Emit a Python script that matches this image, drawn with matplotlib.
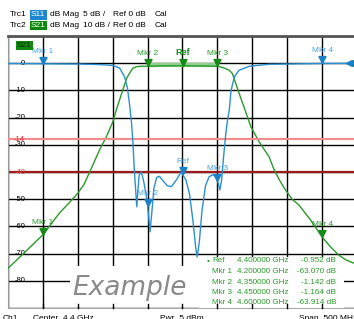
import numpy as np
import matplotlib
matplotlib.use("Agg")
import matplotlib.pyplot as plt
from matplotlib.path import Path
from matplotlib.patches import Rectangle
import matplotlib.transforms as mtransforms

plt.rcParams['font.family'] = ['Liberation Sans', 'DejaVu Sans']

# S21 trace (GHz, dB) - 10 dB/div
f21 = [4.15, 4.162, 4.174, 4.187, 4.2, 4.212, 4.224, 4.237, 4.25, 4.259, 4.267, 4.274,
       4.281, 4.291, 4.3, 4.306, 4.313, 4.32, 4.325, 4.329, 4.334, 4.339, 4.345, 4.35,
       4.36, 4.375, 4.4, 4.425, 4.44, 4.45, 4.455, 4.461, 4.467, 4.4715, 4.481, 4.49,
       4.498, 4.51, 4.524, 4.531, 4.539, 4.546, 4.557, 4.567, 4.583, 4.6, 4.612, 4.624,
       4.634, 4.65]
s21 = [-75.4, -72.5, -69.5, -66.3, -63.07, -59.0, -55.0, -51.5, -47.8, -44.5, -40.0, -36.0,
       -32.0, -27.0, -21.7, -16.5, -11.0, -5.5, -3.3, -1.8, -1.3, -1.15, -1.1, -1.142,
       -1.05, -0.98, -0.952, -1.0, -1.1, -1.164, -1.4, -1.9, -2.6, -3.8, -11.0, -17.5,
       -23.4, -29.0, -34.4, -39.0, -43.0, -46.0, -50.0, -52.2, -57.5, -63.914, -67.5, -70.6,
       -72.3, -74.0]

# S11 trace (GHz, dB) - 5 dB/div
f11 = [4.15, 4.2, 4.25, 4.28, 4.3, 4.31, 4.317, 4.321, 4.324, 4.327, 4.329, 4.331, 4.333,
       4.3345, 4.336, 4.338, 4.341, 4.344, 4.347, 4.349, 4.351, 4.3535, 4.356, 4.359, 4.363,
       4.367, 4.372, 4.378, 4.384, 4.391, 4.398, 4.405, 4.41, 4.415, 4.419, 4.421, 4.424,
       4.428, 4.433, 4.438, 4.443, 4.448, 4.451, 4.4535, 4.456, 4.459, 4.462, 4.465, 4.467,
       4.4696, 4.4743, 4.481, 4.496, 4.524, 4.6, 4.65]
s11 = [-0.05, -0.1, -0.15, -0.25, -0.4, -0.9, -2.5, -4.5, -7.4, -11.0, -14.7, -19.7, -23.5,
       -26.4, -23.5, -20.5, -20.0, -21.5, -23.5, -25.0, -27.5, -31.0, -27.5, -23.0, -21.0,
       -20.8, -21.6, -22.5, -22.7, -21.5, -20.0, -21.5, -24.0, -29.0, -34.0, -35.6, -33.0,
       -27.0, -22.5, -20.9, -20.5, -20.8, -22.0, -23.3, -21.5, -17.0, -13.0, -10.0, -8.6,
       -5.0, -2.5, -1.3, -0.55, -0.2, -0.05, -0.03]

mkr_names = ['Ref', 'Mkr 1', 'Mkr 2', 'Mkr 3', 'Mkr 4']
mkr_freq = [4.40, 4.20, 4.35, 4.45, 4.60]
mkr_s21 = [-0.952, -63.070, -1.142, -1.164, -63.914]

yticks = [0, -10, -20, -30, -40, -50, -60, -70, -80]
limit_s11 = -14
limit_s21 = -40

BLUE = '#2b8fd3'
BLUE_LBL = '#4aa3df'
GREEN = '#2a9a2a'
GREEN_MK = '#168a16'

W, H = 354, 319


def px(x, y):
    return x / W, 1 - y / H


fig = plt.figure(figsize=(3.54, 3.19), dpi=100)
ax = fig.add_axes([8 / W, 11 / H, 349 / W, 272 / H])
ax.set_xlim(4.15, 4.65)
ax.set_ylim(-90, 10)
ax.set_xticks(np.arange(4.15, 4.651, 0.05))
ax.set_yticks(np.arange(-90, 11, 10))
ax.set_axisbelow(True)
ax.grid(True, color='black', lw=1)
ax.tick_params(length=0, labelleft=False, labelbottom=False)
ax.spines['top'].set_color('#555555')
ax.spines['top'].set_linewidth(2)
ax.spines['left'].set_color('#999999')
ax.spines['left'].set_linewidth(0.8)
ax.spines['bottom'].set_color('#aaaaaa')
ax.spines['right'].set_visible(False)

ax2 = ax.twinx()
ax2.set_ylim(-45, 5)
ax2.set_yticks([])
for s in ax2.spines.values():
    s.set_visible(False)

# white boxes behind watermark and marker table
ax.add_patch(Rectangle((4.2386, -89.5), 0.195, 14.9, facecolor='white', edgecolor='none', zorder=1))
ax.add_patch(Rectangle((4.424, -90), 0.2074, 18.7, facecolor='white', edgecolor='none', zorder=1))

# small ticks on bottom
trb = mtransforms.blended_transform_factory(ax.transData, ax.transAxes)
for xt in np.arange(4.2, 4.651, 0.05):
    ax.plot([xt, xt], [0, 0.014], color='black', lw=1, transform=trb, zorder=3, clip_on=False)

# limit lines
ax2.axhline(limit_s11, color='#f28b8b', lw=1.6, zorder=2)
ax.axhline(limit_s21, color='#9b1c1c', lw=1.6, zorder=2)

# y labels
trl = mtransforms.blended_transform_factory(ax.transAxes, ax.transData)
for v in yticks:
    if v == limit_s21:
        continue
    ax.text(0.049, v, str(v), transform=trl, ha='right', va='center', fontsize=5.5, zorder=1.5)
trl2 = mtransforms.blended_transform_factory(ax2.transAxes, ax2.transData)
ax2.text(0.049, limit_s11, str(limit_s11), transform=trl2, ha='right', va='center',
         fontsize=5.5, color='#e03030', zorder=4)
ax.text(0.049, limit_s21, str(limit_s21), transform=trl, ha='right', va='center',
        fontsize=5.5, color='#e03030', zorder=4)

# traces
ax.plot([4.35, 4.45], [-0.6, -0.6], color='#8fd08f', lw=3, zorder=2, solid_capstyle='butt')
ax.plot(f21, s21, color=GREEN, lw=1, zorder=3)
ax2.plot(f11, s11, color=BLUE, lw=1, zorder=3)

tri = Path([(-0.5, 1), (0.5, 1), (0, 0), (-0.5, 1)],
           [Path.MOVETO, Path.LINETO, Path.LINETO, Path.CLOSEPOLY])

# S21 markers
for name, f, v in zip(mkr_names, mkr_freq, mkr_s21):
    ax.plot(f, v, marker=tri, ms=10, color=GREEN_MK, zorder=5)
    if name == 'Ref':
        ax.annotate(name, (f, v), xytext=(0, 9.5), textcoords='offset points', ha='center',
                    va='center', fontsize=6.5, fontweight='bold', color=GREEN_MK, zorder=5)
    else:
        ax.annotate(name, (f, v), xytext=(0, 9), textcoords='offset points', ha='center',
                    va='center', fontsize=6, color=GREEN, zorder=5)

# S11 markers
for name, f in zip(mkr_names, mkr_freq):
    v = np.interp(f, f11, s11)
    ax2.plot(f, v, marker=tri, ms=10, color='#1a80c8', zorder=5)
    ax2.annotate(name, (f, v), xytext=(0, 9), textcoords='offset points', ha='center',
                 va='center', fontsize=6, color=BLUE_LBL, zorder=5)

# reference level arrows at right edge
ax.plot(4.6414, 0, marker='<', ms=4.5, color=GREEN_MK, zorder=5, clip_on=False)
ax2.plot(4.6386, 0, marker='<', ms=4.5, color='#1a80c8', zorder=5, clip_on=False)

# watermark
ax.text(*px(72, 288), 'Example', transform=fig.transFigure, fontsize=19, style='italic',
        family='DejaVu Sans', color='#8a8a8a', ha='left', va='center', zorder=6)

# marker table
rows_y = [261, 271.5, 282, 292.5, 303]
fig.text(*px(208, rows_y[0]), '\u2022', color=GREEN, fontsize=6, ha='center', va='center')
for name, f, v, yy in zip(mkr_names, mkr_freq, mkr_s21, rows_y):
    fig.text(*px(212, yy), name, color=GREEN, fontsize=5.8, ha='left', va='center')
    fig.text(*px(237, yy), '%.6f GHz' % f, color=GREEN, fontsize=5.8, ha='left', va='center')
    fig.text(*px(336, yy), '%.3f dB' % v, color=GREEN, fontsize=5.8, ha='right', va='center')

# header
hdr = [('Trc1', 'S11', '#1a88d0', '5 dB /', 15), ('Trc2', 'S21', '#0a8a0a', '10 dB /', 25.5)]
for trc, sp, col, scale, yy in hdr:
    fig.text(*px(10, yy), trc, fontsize=6, ha='left', va='center')
    fig.text(*px(31, yy), sp, fontsize=6, ha='left', va='center', color='white',
             bbox=dict(boxstyle='square,pad=0.15', facecolor=col, edgecolor='none'))
    fig.text(*px(50, yy), 'dB Mag', fontsize=6, ha='left', va='center')
    fig.text(*px(83, yy), scale, fontsize=6, ha='left', va='center')
    fig.text(*px(113, yy), 'Ref 0 dB', fontsize=6, ha='left', va='center')
    fig.text(*px(155, yy), 'Cal', fontsize=6, ha='left', va='center')

fig.text(*px(17, 45.5), 'S21', fontsize=6, ha='left', va='center', color='#002a00',
         bbox=dict(boxstyle='square,pad=0.15', facecolor='#118a11', edgecolor='none'))

# footer
fig.text(*px(3, 315), 'Ch1', fontsize=6, ha='left', va='top')
fig.text(*px(33, 315), 'Center  4.4 GHz', fontsize=6, ha='left', va='top')
fig.text(*px(160, 315), 'Pwr  5 dBm', fontsize=6, ha='left', va='top')
fig.text(*px(299, 315), 'Span  500 MHz', fontsize=6, ha='left', va='top')

fig.savefig('out.png', dpi=100)
